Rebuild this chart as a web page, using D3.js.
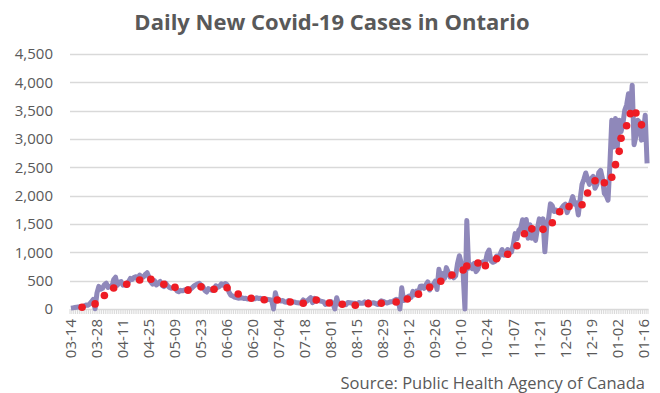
<!DOCTYPE html>
<html>
<head>
<meta charset="utf-8">
<script src="https://cdn.jsdelivr.net/npm/d3@7"></script>
<style>
  html, body { margin: 0; padding: 0; background: #fff; }
  svg { display: block; }
</style>
</head>
<body>
<svg id="chart" width="660" height="393"></svg>
<script>
// ---------------- DATA ----------------
const titleText = "Daily New Covid-19 Cases in Ontario";
const sourceText = "Source: Public Health Agency of Canada";
const startDate = "2020-03-14";   // first category, one category per day

// daily new cases (Mar 14 2020 .. Jan 18 2021)
const dailyCases = [
  15, 20, 25, 30, 35, 45, 40, 50, 70, 65,
  85, 125, 170, 5, 280, 400, 350, 365, 430, 455,
  380, 400, 380, 520, 560, 420, 470, 485, 420, 430,
  420, 480, 540, 520, 560, 570, 520, 600, 560, 565,
  610, 640, 560, 480, 440, 500, 425, 460, 485, 420,
  395, 455, 410, 380, 365, 380, 395, 320, 306, 330,
  320, 335, 345, 360, 340, 370, 400, 425, 440, 455,
  420, 400, 330, 300, 360, 340, 330, 350, 410, 380,
  400, 445, 420, 450, 430, 300, 245, 230, 210, 200,
  190, 195, 200, 185, 190, 175, 185, 190, 178, 180,
  200, 185, 190, 175, 160, 155, 170, 165, 155, 0,
  285, 150, 160, 140, 150, 125, 120, 150, 120, 130,
  125, 115, 110, 105, 115, 160, 130, 140, 170, 200,
  110, 190, 140, 165, 140, 135, 125, 80, 90, 120,
  130, 95, 0, 200, 90, 95, 75, 90, 75, 115,
  110, 105, 100, 100, 80, 115, 100, 100, 125, 95,
  130, 110, 105, 110, 95, 80, 115, 145, 135, 120,
  105, 115, 130, 130, 150, 170, 160, 0, 375, 150,
  170, 210, 230, 205, 310, 250, 315, 290, 400, 405,
  365, 425, 478, 335, 410, 435, 490, 345, 700, 555,
  625, 540, 730, 650, 565, 615, 550, 585, 800, 940,
  810, 650, 0, 1560, 720, 785, 712, 805, 660, 705,
  820, 825, 840, 825, 980, 1040, 850, 825, 835, 935,
  895, 975, 1050, 950, 985, 1050, 1000, 1005, 1130, 1330,
  1240, 1390, 1425, 1575, 1395, 1580, 1250, 1485, 1250, 1415,
  1210, 1420, 1590, 1535, 1590, 1010, 1450, 1600, 1855, 1822,
  1720, 1746, 1707, 1723, 1780, 1824, 1850, 1700, 1780, 1880,
  1983, 1850, 1873, 1660, 1940, 2200, 2290, 2400, 2290, 2200,
  2300, 2340, 2130, 2200, 2408, 2447, 2300, 2040, 2000, 1920,
  2550, 3330, 2860, 3360, 2860, 3330, 3130, 3270, 3510, 3600,
  3800, 3500, 3950, 2900, 3050, 3330, 3300, 2980, 3100, 3420, 2570
];

// red markers: [day index from start, value]
const markerDays = [6, 13, 18, 23, 30, 37, 43, 50, 56, 63, 70, 77, 84, 90, 97, 104, 111, 118, 125, 132,
  139, 146, 153, 160, 167, 175, 181, 187, 193, 199, 205, 211, 213, 219, 223, 229, 235, 240, 244, 248,
  254, 259, 263, 268, 275, 278, 282, 287, 291, 293, 295, 296, 299, 301, 304, 307];
const markerValues = [30, 90, 238, 370, 436, 512, 526, 436, 382, 333, 391, 348, 376, 265, 189, 164, 159, 124, 101, 159,
  106, 83, 65, 94, 101, 124, 176, 262, 383, 490, 600, 688, 759, 812, 765, 888, 965, 1115, 1329, 1414,
  1406, 1523, 1715, 1809, 1841, 2047, 2262, 2229, 2326, 2547, 2782, 3014, 3235, 3447, 3459, 3250];

const xTickLabels = ["03-14","03-28","04-11","04-25","05-09","05-23","06-06","06-20","07-04","07-18",
  "08-01","08-15","08-29","09-12","09-26","10-10","10-24","11-07","11-21","12-05","12-19","01-02","01-16"];
const yTicks = [0, 500, 1000, 1500, 2000, 2500, 3000, 3500, 4000, 4500];

// ---------------- CHART ----------------
const svg = d3.select("#chart");
const plot = { left: 70, right: 648, top: 54, bottom: 309 };
const textColor = "#595959";
const fontFam = "'Open Sans', 'Liberation Sans', sans-serif";

const fmtDay = d3.timeFormat("%m-%d");
const parse = d3.timeParse("%Y-%m-%d");
const d0 = parse(startDate);
const categories = dailyCases.map((v, i) => fmtDay(d3.timeDay.offset(d0, i)));

const x = d3.scaleBand().domain(d3.range(dailyCases.length)).range([plot.left, plot.right]).paddingInner(0).paddingOuter(0);
const cx = i => x(i) + x.bandwidth() / 2;
const y = d3.scaleLinear().domain([0, 4500]).range([plot.bottom, plot.top]);

// gridlines
svg.append("g").selectAll("line").data(yTicks.filter(t => t > 0)).join("line")
  .attr("x1", plot.left).attr("x2", plot.right)
  .attr("y1", d => Math.round(y(d)) + 0.5).attr("y2", d => Math.round(y(d)) + 0.5)
  .attr("stroke", "#d9d9d9").attr("stroke-width", 1.5);

// x axis: line + ticks at every category boundary
const xAxis = d3.axisBottom(x).tickValues([]).tickSizeOuter(0);
const gx = svg.append("g").attr("transform", `translate(0,${plot.bottom})`).call(xAxis);
gx.select(".domain").attr("stroke", "#d9d9d9").attr("stroke-width", 1.5);
svg.append("g").selectAll("line").data(d3.range(dailyCases.length + 1)).join("line")
  .attr("x1", i => (i < dailyCases.length ? x(i) : plot.right))
  .attr("x2", i => (i < dailyCases.length ? x(i) : plot.right))
  .attr("y1", plot.bottom).attr("y2", plot.bottom + 5)
  .attr("stroke", "#d9d9d9").attr("stroke-width", 1);

// x labels
const labelIdx = xTickLabels.map(l => categories.indexOf(l));
svg.append("g").selectAll("text").data(xTickLabels).join("text")
  .attr("transform", (d, i) => `translate(${cx(labelIdx[i])},${plot.bottom + 10}) rotate(-90)`)
  .attr("text-anchor", "end").attr("dy", "0.35em")
  .attr("font-family", fontFam).attr("font-size", 15).attr("fill", textColor)
  .text(d => d);

// y axis labels
const yAxis = d3.axisLeft(y).tickValues(yTicks).tickFormat(d3.format(",")).tickSize(0).tickPadding(0);
const gy = svg.append("g").attr("transform", `translate(53,0)`).call(yAxis);
gy.select(".domain").remove();
gy.selectAll("text").attr("font-family", fontFam).attr("font-size", 15).attr("fill", textColor);

// purple daily line
const line = d3.line().x((d, i) => cx(i)).y(d => y(d)).curve(d3.curveLinear);
svg.append("path").datum(dailyCases)
  .attr("d", line).attr("fill", "none")
  .attr("stroke", "#8f88ba").attr("stroke-width", 5)
  .attr("stroke-linejoin", "round").attr("stroke-linecap", "butt");

// red markers
svg.append("g").selectAll("circle").data(markerDays).join("circle")
  .attr("cx", d => cx(d)).attr("cy", (d, i) => y(markerValues[i]))
  .attr("r", 3.8).attr("fill", "#ee1c24");

// title
svg.append("text").attr("x", 332).attr("y", 30).attr("text-anchor", "middle")
  .attr("font-family", fontFam).attr("font-weight", "bold").attr("font-size", 22)
  .attr("fill", textColor).text(titleText);

// source
svg.append("text").attr("x", 645).attr("y", 389).attr("text-anchor", "end")
  .attr("font-family", fontFam).attr("font-size", 16.5).attr("fill", textColor)
  .text(sourceText);
</script>
</body>
</html>
